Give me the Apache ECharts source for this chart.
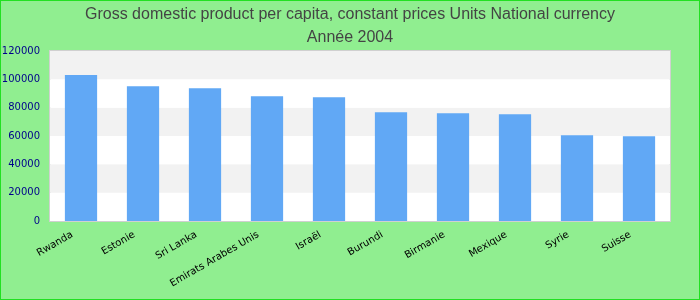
<!DOCTYPE html>
<html><head><meta charset="utf-8">
<script src="https://cdn.jsdelivr.net/npm/echarts@6/dist/echarts.min.js"></script>
<style>html,body{margin:0;padding:0;}#c{width:698px;height:298px;border:1px solid #22e022;background:#90ee90;}</style>
</head><body><div id="c"></div>
<script>
var categories = ["Rwanda","Estonie","Sri Lanka","Emirats Arabes Unis","Israël","Burundi","Birmanie","Mexique","Syrie","Suisse"];
var values = [103000, 95200, 93700, 88000, 87300, 76700, 76000, 75300, 60500, 59800];
var titleLines = ["Gross domestic product per capita, constant prices Units National currency", "Année 2004"];
var chart = echarts.init(document.getElementById('c'), null, {renderer:'canvas'});
chart.setOption({
  backgroundColor: '#90ee90',
  title: {text: titleLines.join('\n'), left: 'center', top: -3,
    textStyle: {fontFamily: 'Liberation Sans', fontSize: 16, fontWeight: 'normal', color: '#444', lineHeight: 23}},
  grid: {left: 49, right: 29, top: 50, bottom: 78, show: true, borderColor: '#d0d0d0', borderWidth: 2, backgroundColor: '#fff', outerBoundsMode: 'none', containLabel: false},
  xAxis: {type: 'category', data: categories,
    axisLine: {show: false}, axisTick: {show: false},
    axisLabel: {rotate: 30, interval: 0, fontFamily: 'DejaVu Sans', fontSize: 10, color: '#000', margin: 8, padding: [0, 10, 0, 0]}},
  yAxis: {type: 'value', min: 0, max: 120000, interval: 20000,
    axisLine: {show: false}, axisTick: {show: false}, splitLine: {show: false},
    splitArea: {show: true, areaStyle: {color: ['#ffffff', '#f2f2f2']}},
    axisLabel: {fontFamily: 'DejaVu Sans', fontSize: 10, color: '#00008b', margin: 10, formatter: function(v){return String(v);}}},
  series: [{type: 'bar', data: values, barWidth: '52%', itemStyle: {color: '#61a8f5'}, animation: false}]
});
</script></body></html>
